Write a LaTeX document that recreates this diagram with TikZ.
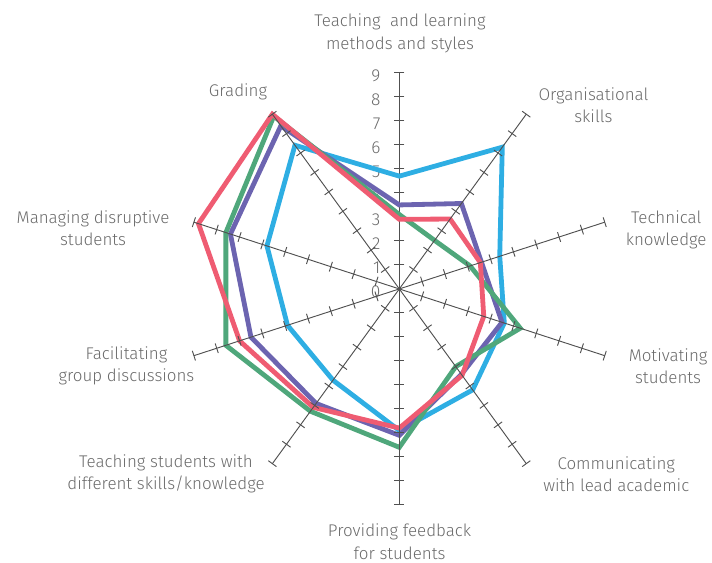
\documentclass[tikz,border=0pt]{standalone}
\usepackage{fontspec}
\setmainfont{Fira Sans Light}
\definecolor{axisgray}{HTML}{505050}
\definecolor{labelgray}{HTML}{6A6A6A}
\definecolor{skyline}{HTML}{2EAEE3}
\definecolor{violetline}{HTML}{6C64B0}
\definecolor{greenline}{HTML}{4FA77B}
\definecolor{redline}{HTML}{EF5C72}
\tikzset{
  spoke/.style={draw=axisgray, line width=0.7pt},
  series/.style={line width=3.6pt, line join=miter},
  catlabel/.style={align=center, text=labelgray, font=\fontsize{12.7}{16.8}\selectfont},
  numlabel/.style={anchor=east, text=labelgray, font=\fontsize{13}{14}\selectfont, inner sep=0pt}
}
\begin{document}
\begin{tikzpicture}[x=18pt,y=18pt]
  \useasboundingbox (-16.64,-11.42) rectangle (13.03,12.04);

  % value axis
  \begin{scope}[rotate=90]
    \draw[spoke] (0,0) -- (9,0);
    \foreach \i in {1,...,9}
      \draw[spoke] (\i,-0.21) -- (\i,0.21);
  \end{scope}
  \foreach \i in {0,...,9}
    \node[numlabel] (num\i) at (-0.78,\i-0.12) {\i};

  % series
  \draw[series, skyline] (90:4.7) -- (54:7.3) -- (18:4.4) -- (-18:4.6) -- (-54:5.2)
    -- (-90:5.9) -- (-126:4.7) -- (-162:4.9) -- (162:5.8) -- (126:7.4) -- cycle;
  \draw[series, violetline] (90:3.5) -- (54:4.4) -- (18:3.6) -- (-18:4.5) -- (-54:4.4)
    -- (-90:6.1) -- (-126:5.9) -- (-162:6.5) -- (162:7.4) -- (126:8.4) -- cycle;
  \draw[series, greenline] (90:3.1) -- (54:2.5) -- (18:3.1) -- (-18:5.3) -- (-54:4.0)
    -- (-90:6.6) -- (-126:6.3) -- (-162:7.6) -- (162:7.6) -- (126:8.9) -- cycle;
  \draw[series, redline] (90:2.9) -- (54:3.6) -- (18:3.55) -- (-18:3.7) -- (-54:4.45)
    -- (-90:5.8) -- (-126:6.1) -- (-162:7.0) -- (162:8.8) -- (126:9.0) -- cycle;

  % category axes
  \foreach \a in {54,18,-18,-54,-90,-126,-162,162,126}{
    \begin{scope}[rotate=\a]
      \draw[spoke] (0,0) -- (9,0);
      \foreach \i in {1,...,9}
        \draw[spoke] (\i,-0.21) -- (\i,0.21);
    \end{scope}
  }

  % category labels
  \node[catlabel] (teach)  at (0.03,10.65)  {Teaching\ \ and learning\\methods and styles};
  \node[catlabel] (organ)  at (8.09,7.65)   {Organisational\\skills};
  \node[catlabel] (techn)  at (11.12,2.46)  {Technical\\knowledge};
  \node[catlabel] (motiv)  at (11.2,-3.21)  {Motivating\\students};
  \node[catlabel] (commu)  at (9.04,-7.71)  {Communicating\\with lead academic};
  \node[catlabel] (feedb)  at (0.01,-10.54) {Providing feedback\\for students};
  \node[catlabel] (differ) at (-9.72,-7.71) {Teaching students with\\different skills/knowledge};
  \node[catlabel] (facil)  at (-11.37,-3.21) {Facilitating\\group discussions};
  \node[catlabel] (manag)  at (-12.76,2.54) {Managing disruptive\\students};
  \node[catlabel] (grade)  at (-6.72,8.21)  {Grading};
\end{tikzpicture}
\end{document}
